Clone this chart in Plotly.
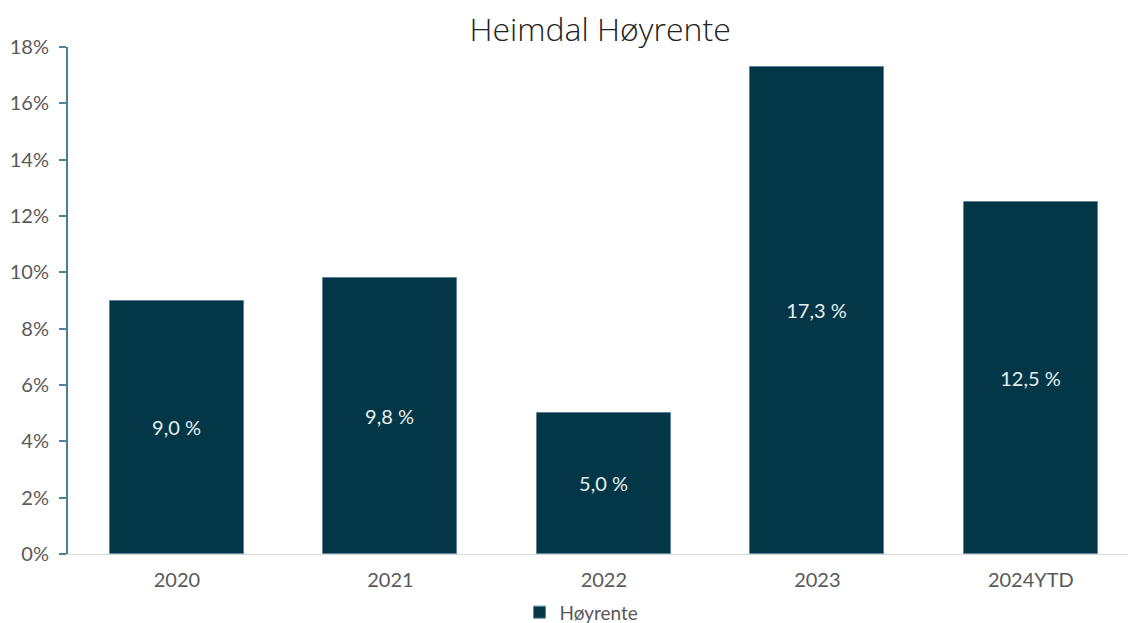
import plotly.graph_objects as go

categories = ["2020", "2021", "2022", "2023", "2024YTD"]
values = [9.0, 9.8, 5.0, 17.3, 12.5]
labels = ["9,0 %", "9,8 %", "5,0 %", "17,3 %", "12,5 %"]
tick_vals = [0, 2, 4, 6, 8, 10, 12, 14, 16, 18]
tick_text = ["0%", "2%", "4%", "6%", "8%", "10%", "12%", "14%", "16%", "18%"]

fig = go.Figure()
fig.add_trace(go.Bar(
    x=list(range(len(categories))), y=values, name="Høyrente",
    text=labels, textposition="inside", insidetextanchor="middle",
    textfont=dict(family="Lato", size=20, color="#e8eef0"),
    marker=dict(color="#033747", line=dict(color="#5d8696", width=1)),
    width=0.628, showlegend=True,
))

fig.update_layout(
    width=1128, height=623,
    margin=dict(l=68, r=0, t=47, b=69, autoexpand=False),
    paper_bgcolor="white", plot_bgcolor="white",
    title=dict(text="Heimdal Høyrente", x=0.532, xanchor="center", y=0.952, yanchor="middle",
               font=dict(family="Open Sans", size=32, color="#222222", weight=300)),
    xaxis=dict(range=[-0.51, 4.455], tickvals=list(range(len(categories))), ticktext=categories,
               showgrid=False, showline=True, linecolor="#d9d9d9", linewidth=1, automargin=False,
               ticks="", ticklabelstandoff=8,
               tickfont=dict(family="Lato", size=20, color="#595959"), zeroline=False),
    yaxis=dict(range=[0, 18], tickvals=tick_vals, ticktext=tick_text, showgrid=False, automargin=False,
               showline=True, linecolor="#4f8196", linewidth=2, ticks="outside", ticklen=7,
               tickcolor="#4f8196", tickwidth=2, ticklabelstandoff=6,
               tickfont=dict(family="Lato", size=20, color="#595959"), zeroline=False),
    legend=dict(orientation="h", x=0.426, xanchor="left", y=-0.115, yanchor="middle",
                font=dict(family="Lato", size=19, color="#595959"), itemwidth=30),
    bargap=0,
)

fig.write_html("out.html", config={"displayModeBar": False},
               post_script="document.body.style.margin='0';document.body.style.overflow='hidden';")
